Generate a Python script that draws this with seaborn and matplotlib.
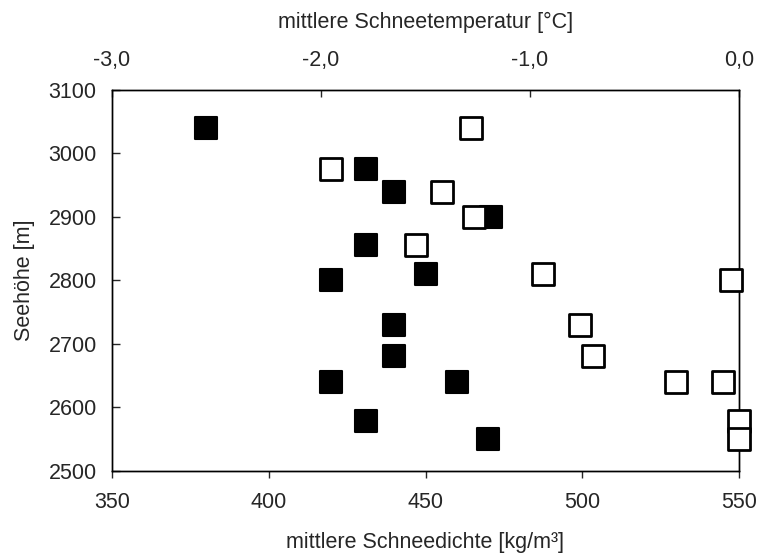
import matplotlib
matplotlib.use("Agg")
import matplotlib.pyplot as plt
import seaborn as sns
import pandas as pd
from matplotlib.ticker import FuncFormatter

# Data
dichte = [380, 431, 440, 471, 431, 450, 420, 440, 440, 420, 460, 431, 470]
hoehe_dichte = [3040, 2975, 2940, 2900, 2855, 2810, 2800, 2730, 2680, 2640, 2640, 2578, 2550]
temperatur = [-1.28, -1.95, -1.42, -1.27, -1.545, -0.94, -0.04, -0.76, -0.70, -0.30, -0.075, 0.0, 0.0]
hoehe_temp = [3040, 2975, 2940, 2900, 2855, 2810, 2800, 2730, 2680, 2640, 2640, 2578, 2550]

x_ticks = [350, 400, 450, 500, 550]
top_ticks = [-3.0, -2.0, -1.0, 0.0]
y_ticks = [2500, 2600, 2700, 2800, 2900, 3000, 3100]

df_d = pd.DataFrame({"dichte": dichte, "hoehe": hoehe_dichte})
df_t = pd.DataFrame({"temp": temperatur, "hoehe": hoehe_temp})

sns.set_style("white")
plt.rcParams["font.family"] = ["Liberation Sans", "DejaVu Sans"]
plt.rcParams["font.size"] = 15

fig = plt.figure(figsize=(7.6, 5.53), dpi=100)
ax = fig.add_axes([112 / 760, 1 - 470.7 / 553, (739 - 112) / 760, (470.7 - 90) / 553])

sns.scatterplot(data=df_d, x="dichte", y="hoehe", ax=ax, marker="s", s=235,
                color="black", edgecolor="black", linewidth=1.5,
                clip_on=False, joinstyle="round", zorder=3, legend=False)
ax.set_xlim(350, 550)
ax.set_ylim(2500, 3100)
ax.set_xticks(x_ticks)
ax.set_yticks(y_ticks)
ax.set_xlabel("mittlere Schneedichte [kg/m³]", fontsize=15.5, labelpad=14)
ax.set_ylabel("Seehöhe [m]", fontsize=15.5, labelpad=10)
ax.tick_params(axis="x", direction="out", length=5, width=1, pad=10, labelsize=15.5, bottom=True)
ax.tick_params(axis="y", direction="in", length=6, width=1, pad=11, labelsize=15.5, left=True)

ax2 = ax.twiny()
sns.scatterplot(data=df_t, x="temp", y="hoehe", ax=ax2, marker="s", s=235,
                facecolor="white", edgecolor="black", linewidth=2.0,
                clip_on=False, joinstyle="round", zorder=4, legend=False)
ax2.set_xlim(-3.0, 0.0)
ax2.set_ylim(2500, 3100)
ax2.set_xticks(top_ticks)
ax2.xaxis.set_major_formatter(FuncFormatter(lambda v, p: f"{v:.1f}".replace(".", ",").replace("-0,0", "0,0")))
ax2.set_xlabel("mittlere Schneetemperatur [°C]", fontsize=15.5, labelpad=15.5)
ax2.tick_params(axis="x", direction="in", length=5, width=1, pad=14, labelsize=15.5, top=True)

for a in (ax, ax2):
    for sp in a.spines.values():
        sp.set_visible(True)
        sp.set_color("black")
        sp.set_linewidth(1.0)

fig.savefig("out.png", dpi=100, facecolor="white")
